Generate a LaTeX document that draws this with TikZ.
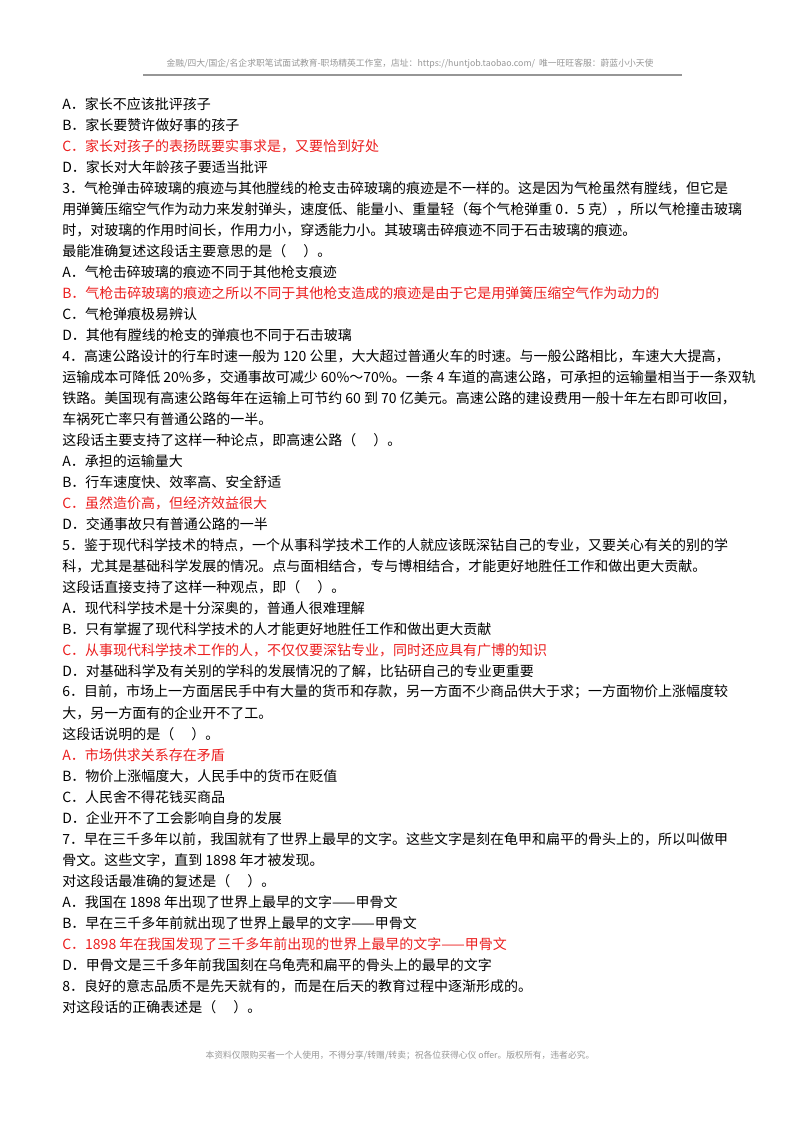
\documentclass[tikz,border=0pt]{standalone}
\usepackage{fontspec}
\setmainfont{Noto Sans CJK SC}
\usetikzlibrary{positioning}
\definecolor{ansred}{RGB}{235,30,30}
\definecolor{hdgray}{RGB}{150,150,150}
\tikzset{
  ln/.style={anchor=west, inner sep=0pt, font=\fontsize{10.5}{12}\selectfont},
  key/.style={ln, text=ansred},
  hd/.style={inner sep=0pt, text=hdgray, font=\fontsize{6.6}{8}\selectfont}
}
\begin{document}
\begin{tikzpicture}[x=0.75pt, y=-0.75pt]
        \useasboundingbox (0,0) rectangle (800,1131);
        % Header and footer
        \node[hd] (head) at (410,64) {金融/四大/国企/名企求职笔试面试教育-职场精英工作室，店址：https://huntjob.taobao.com/\ \ 唯一旺旺客服：蔚蓝小小天使};
        \coordinate (hl) at (143,75);
        \coordinate (hr) at (682,75);
        \draw[hdgray, line width=1.2pt] (hl) -- (hr);
        \node[hd] (foot) at (400,1056) {本资料仅限购买者一个人使用，不得分享/转赠/转卖；祝各位获得心仪 offer。版权所有，违者必究。};
        
        % Question text
        \node[ln] (l1) at (62,104) {A．家长不应该批评孩子};
        \node[ln] (l2) at (62,125) {B．家长要赞许做好事的孩子};
        \node[key] (l3) at (62,146) {C．家长对孩子的表扬既要实事求是，又要恰到好处};
        \node[ln] (l4) at (62,167) {D．家长对大年龄孩子要适当批评};
        \node[ln] (l5) at (62,188) {3．气枪弹击碎玻璃的痕迹与其他膛线的枪支击碎玻璃的痕迹是不一样的。这是因为气枪虽然有膛线，但它是};
        \node[ln] (l6) at (62,209) {用弹簧压缩空气作为动力来发射弹头，速度低、能量小、重量轻（每个气枪弹重 0．5 克），所以气枪撞击玻璃};
        \node[ln] (l7) at (62,230) {时，对玻璃的作用时间长，作用力小，穿透能力小。其玻璃击碎痕迹不同于石击玻璃的痕迹。};
        \node[ln] (l8) at (62,251) {最能准确复述这段话主要意思的是（\quad\ ）。};
        \node[ln] (l9) at (62,272) {A．气枪击碎玻璃的痕迹不同于其他枪支痕迹};
        \node[key] (l10) at (62,293) {B．气枪击碎玻璃的痕迹之所以不同于其他枪支造成的痕迹是由于它是用弹簧压缩空气作为动力的};
        \node[ln] (l11) at (62,314) {C．气枪弹痕极易辨认};
        \node[ln] (l12) at (62,335) {D．其他有膛线的枪支的弹痕也不同于石击玻璃};
        \node[ln] (l13) at (62,356) {4．高速公路设计的行车时速一般为 120 公里，大大超过普通火车的时速。与一般公路相比，车速大大提高，};
        \node[ln] (l14) at (62,377) {运输成本可降低 20\%多，交通事故可减少 60\%～70\%。一条 4 车道的高速公路，可承担的运输量相当于一条双轨};
        \node[ln] (l15) at (62,398) {铁路。美国现有高速公路每年在运输上可节约 60 到 70 亿美元。高速公路的建设费用一般十年左右即可收回，};
        \node[ln] (l16) at (62,419) {车祸死亡率只有普通公路的一半。};
        \node[ln] (l17) at (62,440) {这段话主要支持了这样一种论点，即高速公路（\quad\ ）。};
        \node[ln] (l18) at (62,461) {A．承担的运输量大};
        \node[ln] (l19) at (62,482) {B．行车速度快、效率高、安全舒适};
        \node[key] (l20) at (62,503) {C．虽然造价高，但经济效益很大};
        \node[ln] (l21) at (62,524) {D．交通事故只有普通公路的一半};
        \node[ln] (l22) at (62,545) {5．鉴于现代科学技术的特点，一个从事科学技术工作的人就应该既深钻自己的专业，又要关心有关的别的学};
        \node[ln] (l23) at (62,566) {科，尤其是基础科学发展的情况。点与面相结合，专与博相结合，才能更好地胜任工作和做出更大贡献。};
        \node[ln] (l24) at (62,587) {这段话直接支持了这样一种观点，即（\quad\ ）。};
        \node[ln] (l25) at (62,608) {A．现代科学技术是十分深奥的，普通人很难理解};
        \node[ln] (l26) at (62,629) {B．只有掌握了现代科学技术的人才能更好地胜任工作和做出更大贡献};
        \node[key] (l27) at (62,650) {C．从事现代科学技术工作的人，不仅仅要深钻专业，同时还应具有广博的知识};
        \node[ln] (l28) at (62,671) {D．对基础科学及有关别的学科的发展情况的了解，比钻研自己的专业更重要};
        \node[ln] (l29) at (62,692) {6．目前，市场上一方面居民手中有大量的货币和存款，另一方面不少商品供大于求；一方面物价上涨幅度较};
        \node[ln] (l30) at (62,713) {大，另一方面有的企业开不了工。};
        \node[ln] (l31) at (62,734) {这段话说明的是（\quad\ ）。};
        \node[key] (l32) at (62,755) {A．市场供求关系存在矛盾};
        \node[ln] (l33) at (62,776) {B．物价上涨幅度大，人民手中的货币在贬值};
        \node[ln] (l34) at (62,797) {C．人民舍不得花钱买商品};
        \node[ln] (l35) at (62,818) {D．企业开不了工会影响自身的发展};
        \node[ln] (l36) at (62,839) {7．早在三千多年以前，我国就有了世界上最早的文字。这些文字是刻在龟甲和扁平的骨头上的，所以叫做甲};
        \node[ln] (l37) at (62,860) {骨文。这些文字，直到 1898 年才被发现。};
        \node[ln] (l38) at (62,881) {对这段话最准确的复述是（\quad\ ）。};
        \node[ln] (l39) at (62,902) {A．我国在 1898 年出现了世界上最早的文字——甲骨文};
        \node[ln] (l40) at (62,923) {B．早在三千多年前就出现了世界上最早的文字——甲骨文};
        \node[key] (l41) at (62,944) {C．1898 年在我国发现了三千多年前出现的世界上最早的文字——甲骨文};
        \node[ln] (l42) at (62,965) {D．甲骨文是三千多年前我国刻在乌龟壳和扁平的骨头上的最早的文字};
        \node[ln] (l43) at (62,986) {8．良好的意志品质不是先天就有的，而是在后天的教育过程中逐渐形成的。};
        \node[ln] (l44) at (62,1007) {对这段话的正确表述是（\quad\ ）。};
\end{tikzpicture}
\end{document}
